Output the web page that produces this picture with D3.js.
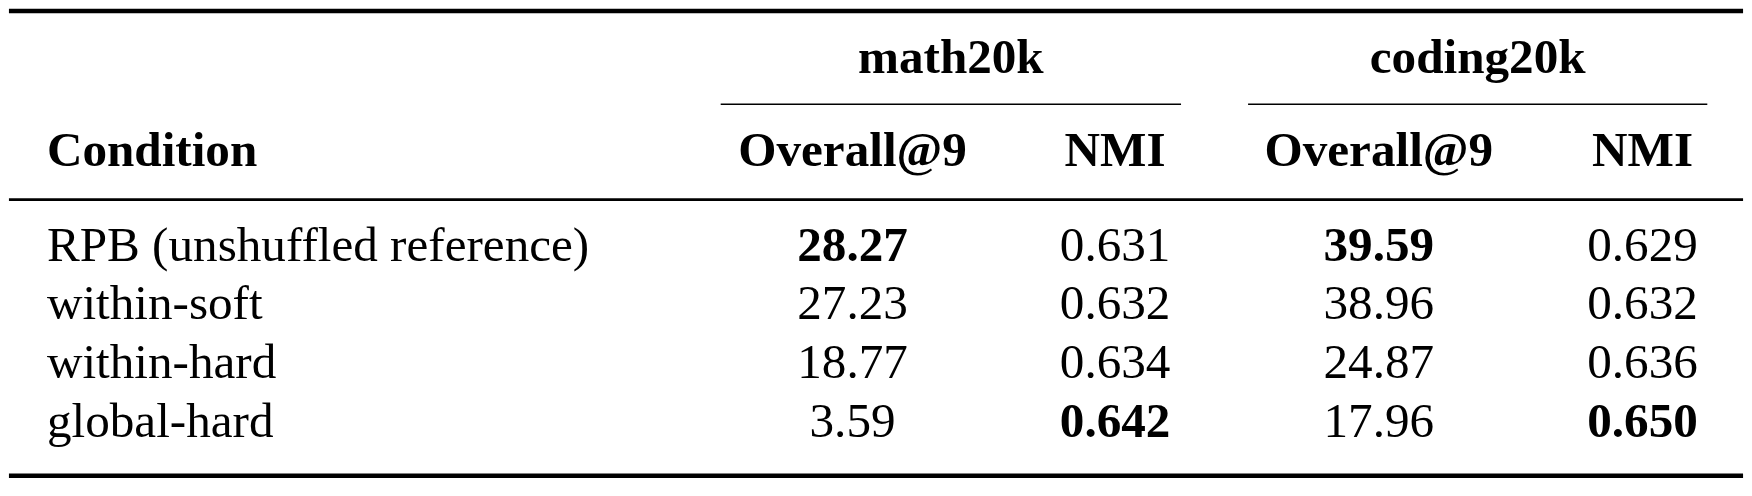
<!DOCTYPE html>
<html><head><meta charset="utf-8">
<script src="https://cdn.jsdelivr.net/npm/d3@7"></script>
<style>body{margin:0;background:#fff}</style></head>
<body><svg id="c" width="1752" height="496"></svg>
<script>
const conditions = ["RPB (unshuffled reference)","within-soft","within-hard","global-hard"];
const mathOverall = ["28.27","27.23","18.77","3.59"];
const mathNMI = ["0.631","0.632","0.634","0.642"];
const codingOverall = ["39.59","38.96","24.87","17.96"];
const codingNMI = ["0.629","0.632","0.636","0.650"];
const groups = ["math20k","coding20k"];
const subHeaders = ["Overall@9","NMI","Overall@9","NMI"];
const bold = [[true,false,true,false],[false,false,false,false],[false,false,false,false],[false,true,false,true]];

const s = 1752/1568;
const svg = d3.select("#c");
const g = svg.append("g").attr("transform",`scale(${s},${s*0.9925})`);
const font = "'Liberation Serif','Times New Roman',serif";
const fs = 44;
const colX = d3.scaleOrdinal().domain([0,1,2,3]).range([763,998,1234,1470]);
const rowY = d3.scaleLinear().domain([0,3]).range([235,394]);
const line=(x1,x2,y,w)=>g.append("line").attr("x1",x1).attr("x2",x2).attr("y1",y).attr("y2",y).attr("stroke","#000").attr("stroke-width",w);
line(8,1560,10,4);
line(8,1560,180,2.5);
line(8,1560,429,4);
const grpX=[[645,1057],[1117,1528]];
groups.forEach((t,i)=>{
  line(grpX[i][0],grpX[i][1],94,1.5);
  g.append("text").attr("x",(grpX[i][0]+grpX[i][1])/2).attr("y",66).attr("text-anchor","middle")
   .attr("font-family",font).attr("font-weight","bold").attr("font-size",fs).text(t);
});
g.append("text").attr("x",42).attr("y",150).attr("font-family",font).attr("font-weight","bold").attr("font-size",fs).text("Condition");
subHeaders.forEach((t,i)=>g.append("text").attr("x",colX(i)).attr("y",150).attr("text-anchor","middle")
  .attr("font-family",font).attr("font-weight","bold").attr("font-size",fs).text(t));
const cols=[mathOverall,mathNMI,codingOverall,codingNMI];
conditions.forEach((c,r)=>{
  g.append("text").attr("x",42).attr("y",rowY(r)).attr("font-family",font).attr("font-size",fs).text(c);
  cols.forEach((col,j)=>g.append("text").attr("x",colX(j)).attr("y",rowY(r)).attr("text-anchor","middle")
    .attr("font-family",font).attr("font-size",fs).attr("font-weight",bold[r][j]?"bold":"normal").text(col[r]));
});
</script></body></html>
